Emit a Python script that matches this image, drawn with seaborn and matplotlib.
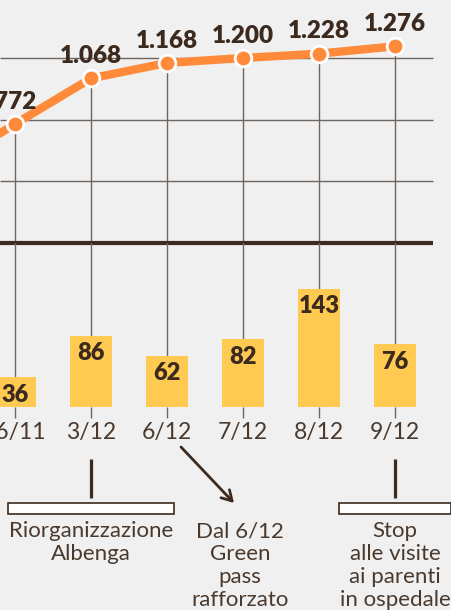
import matplotlib
matplotlib.use("Agg")
import matplotlib.pyplot as plt
import seaborn as sns
import pandas as pd
from matplotlib.patches import Rectangle
from matplotlib.transforms import blended_transform_factory

# ---------------- data ----------------
dates = ["26/11", "3/12", "6/12", "7/12", "8/12", "9/12"]
totals = [772, 1068, 1168, 1200, 1228, 1276]
total_labels = ["772", "1.068", "1.168", "1.200", "1.228", "1.276"]
new_cases = [36, 86, 62, 82, 143, 76]
prev_total = 466          # earlier point, cut off at the left edge
grid_values = [400, 800, 1200]

note_left = ["Riorganizzazione", "Albenga"]
note_mid = ["Dal 6/12", "Green", "pass", "rafforzato"]
note_right = ["Stop", "alle visite", "ai parenti", "in ospedale"]

# ---------------- style ----------------
BG = "#F0F0F0"
ORANGE = "#FF8A3A"
YELLOW = "#FFCA52"
BROWN = "#3B2A1D"
TXT = "#4A3A2E"
GRID = "#6F6660"

sns.set_theme(style="white")
plt.rcParams["font.family"] = ["Lato", "DejaVu Sans"]

W, H = 452, 610
fig = plt.figure(figsize=(W / 100, H / 100), dpi=100, facecolor=BG)


def px_axes(top, bottom):
    return fig.add_axes([0, (H - bottom) / H, 1, (bottom - top) / H])


X0, DX = 15, 76
xlim = ((0 - X0) / DX, (W - X0) / DX)
x_end = (433 - X0) / DX

ax_top = px_axes(0, 243)
ax_bot = px_axes(243, 407)

# ---------------- line panel ----------------
line_df = pd.DataFrame({"x": [-1] + list(range(len(dates))),
                        "y": [prev_total] + totals})
ax_top.hlines(grid_values, xlim[0], x_end, color=GRID, lw=1.0, zorder=1)
ax_top.vlines(range(len(dates)), 0, totals, color=GRID, lw=1.0, zorder=1)
sns.lineplot(data=line_df, x="x", y="y", ax=ax_top, color=ORANGE, lw=6,
             marker="o", markersize=12, markeredgecolor="white",
             markeredgewidth=2, zorder=4)
ax_top.hlines(0, xlim[0], x_end, color=BROWN, lw=3.0, zorder=5, clip_on=False)
for i, (v, lab) in enumerate(zip(totals, total_labels)):
    ax_top.annotate(lab, (i, v), xytext=(0, 11), textcoords="offset points",
                    ha="center", va="baseline", fontsize=17.5,
                    fontweight="heavy", color=BROWN, zorder=6)
ax_top.set_ylim(0, 243 / 185 * 1200)

# ---------------- bar panel ----------------
bar_df = pd.DataFrame({"date": dates, "n": new_cases})
ax_bot.vlines(range(len(dates)), 0, 400, color=GRID, lw=1.0, zorder=1)
sns.barplot(data=bar_df, x="date", y="n", ax=ax_bot, color=YELLOW,
            saturation=1, width=0.55, linewidth=0, edgecolor=YELLOW, zorder=3)
for i, v in enumerate(new_cases):
    ax_bot.annotate(str(v), (i, v), xytext=(0, -4.5), textcoords="offset points",
                    ha="center", va="top", fontsize=17, fontweight="heavy",
                    color=BROWN, zorder=6)
ax_bot.set_ylim(0, 164 / 0.825)

for a in (ax_top, ax_bot):
    a.set_facecolor("none")
    a.set_xlim(*xlim)
    a.set_xlabel("")
    a.set_ylabel("")
    a.set_yticks([])
    for s in a.spines.values():
        s.set_visible(False)
ax_top.set_xticks([])
ax_bot.set_xticks(range(len(dates)))
ax_bot.set_xticklabels(dates, fontsize=16.5, color=TXT)
ax_bot.tick_params(axis="x", length=8, width=1.0, color=GRID, pad=3,
                   bottom=True)

# ---------------- annotations ----------------
trans = blended_transform_factory(ax_bot.transData, fig.transFigure)


def fy(y):
    return (H - y) / H


def dx(px):
    return (px - X0) / DX


def note_lines(xc, lines):
    for k, t in enumerate(lines):
        ax_bot.text(xc, fy(537 + 23 * k), t, transform=trans, ha="center",
                    va="baseline", fontsize=16, fontweight="normal",
                    color=TXT, clip_on=False)


for xc, (l, r) in [(1, (8, 174)), (5, (339, 451))]:
    ax_bot.plot([xc, xc], [fy(459), fy(498)], transform=trans, color=BROWN,
                lw=2.3, clip_on=False, solid_capstyle="butt")
    ax_bot.add_patch(Rectangle((dx(l), fy(514)), dx(r) - dx(l),
                               fy(503) - fy(514), transform=trans,
                               facecolor="white", edgecolor=BROWN, lw=1.2,
                               clip_on=False))

note_lines(1, note_left)
note_lines(dx(240), note_mid)
note_lines(5, note_right)

ax_bot.annotate("", xy=(dx(234), fy(503)), xytext=(dx(181), fy(447)),
                xycoords=trans, textcoords=trans,
                arrowprops=dict(arrowstyle="->,head_length=0.6,head_width=0.35",
                                lw=2.0, color=BROWN, shrinkA=0, shrinkB=0))

fig.savefig("out.png", dpi=100, facecolor=BG)
